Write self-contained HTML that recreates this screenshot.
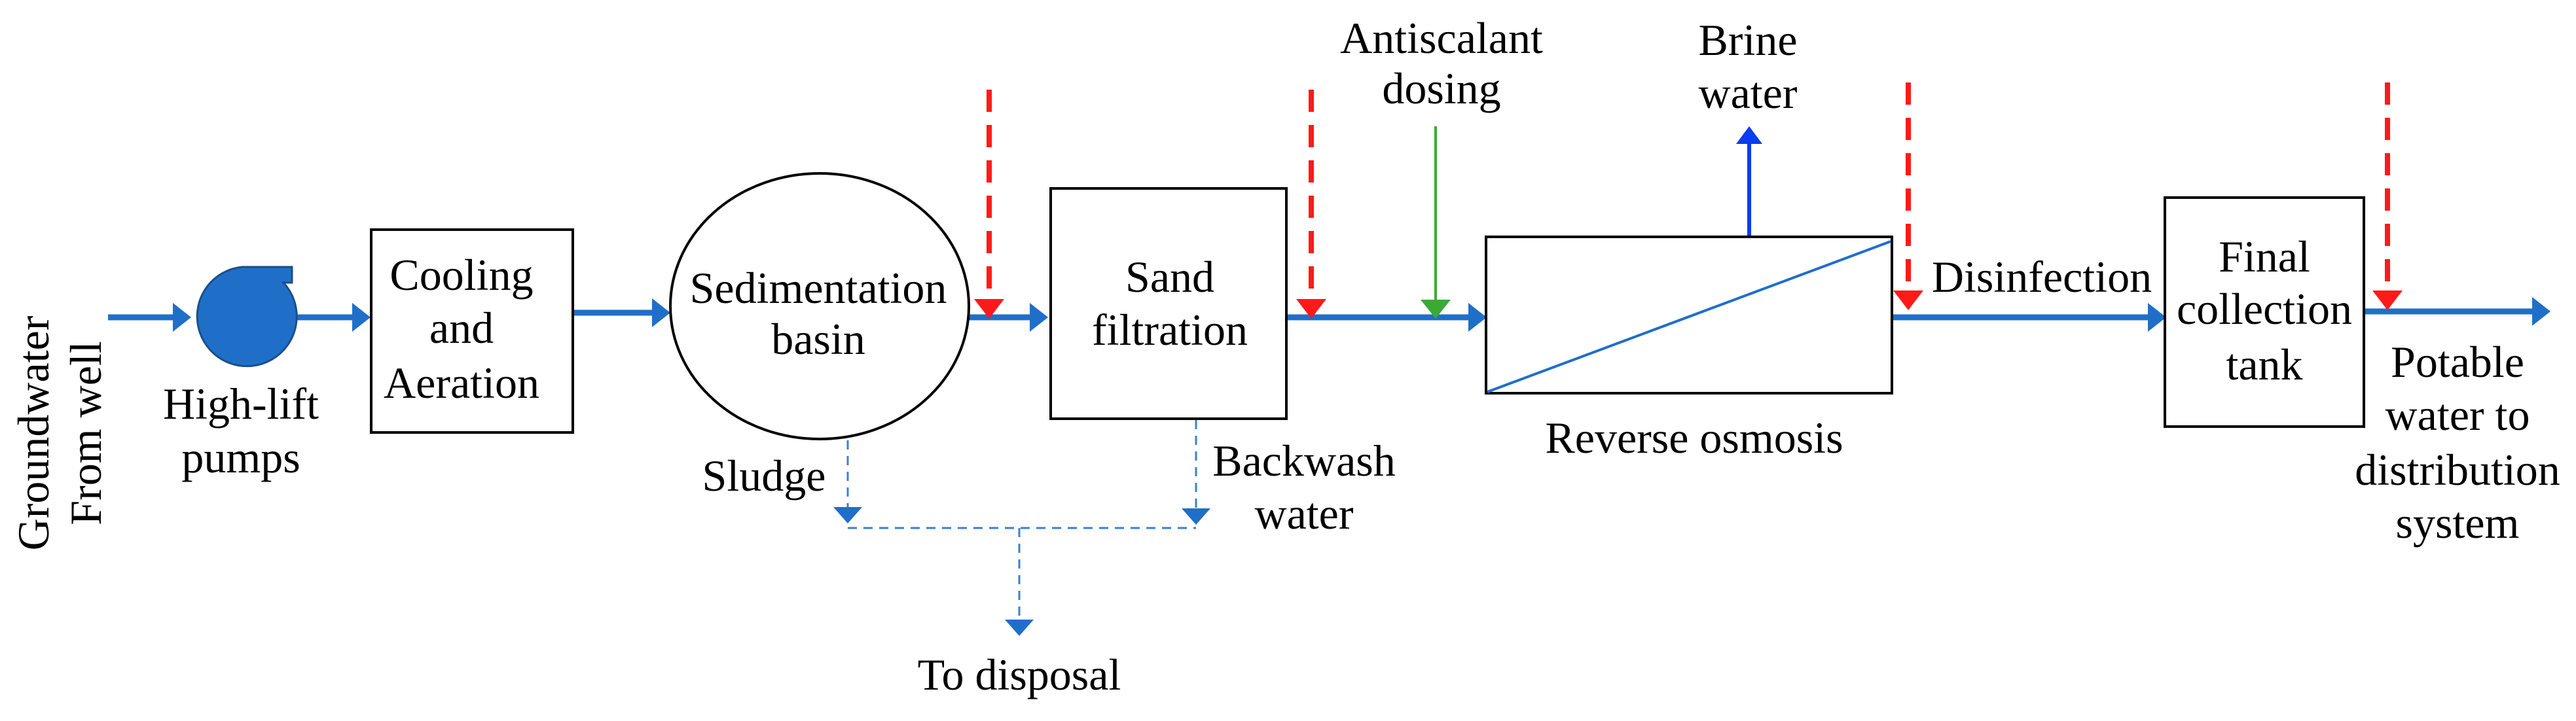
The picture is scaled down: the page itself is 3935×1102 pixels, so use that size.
<!DOCTYPE html>
<html><head><meta charset="utf-8"><style>
html,body{margin:0;padding:0;background:#fff;}
svg{display:block;}
svg text{font-family:"Liberation Serif","Times New Roman",Times,serif !important;font-size:68px;fill:#000;}
</style></head><body>
<svg width="3935" height="1102" viewBox="0 0 3935 1102" xmlns="http://www.w3.org/2000/svg">
<g font-family="Liberation Serif, Times New Roman, serif" font-size="68">
<!-- rotated input labels -->
<text transform="translate(74,662) rotate(-90)" text-anchor="middle">Groundwater</text>
<text transform="translate(154,662) rotate(-90)" text-anchor="middle">From well</text>

<!-- main blue flow lines -->
<g stroke="#1f6fc9" stroke-width="9" fill="none">
<line x1="165" y1="485" x2="266" y2="485"/>
<line x1="446" y1="485" x2="540" y2="485"/>
<line x1="875" y1="478" x2="998" y2="478"/>
<line x1="1480" y1="485" x2="1575" y2="485"/>
<line x1="1965" y1="485" x2="2245" y2="485"/>
<line x1="2890" y1="485" x2="3283" y2="485"/>
<line x1="3611" y1="476" x2="3870" y2="476"/>
</g>
<g fill="#1f6fc9">
<polygon points="292,485 264,463 264,507"/>
<polygon points="566,485 538,463 538,507"/>
<polygon points="1024,478 996,456 996,500"/>
<polygon points="1601,485 1573,463 1573,507"/>
<polygon points="2271,485 2243,463 2243,507"/>
<polygon points="3309,485 3281,463 3281,507"/>
<polygon points="3896,476 3868,454 3868,498"/>
</g>

<!-- pump -->
<g fill="#1f6fc9" stroke="#1a4f8a" stroke-width="3">
<path d="M370,408 L446,408 L446,432 L433,432 A76,76 0 1 1 370,408 Z"/>
</g>
<text x="368" y="640" text-anchor="middle">High-lift</text>
<text x="368" y="722" text-anchor="middle">pumps</text>

<!-- cooling box -->
<rect x="567" y="351" width="308" height="310" fill="#fff" stroke="#000" stroke-width="4"/>
<text x="705" y="443" text-anchor="middle">Cooling</text>
<text x="705" y="524" text-anchor="middle">and</text>
<text x="705" y="608" text-anchor="middle">Aeration</text>

<!-- sedimentation -->
<ellipse cx="1252" cy="468" rx="228" ry="203" fill="#fff" stroke="#000" stroke-width="4"/>
<text x="1250" y="463" text-anchor="middle">Sedimentation</text>
<text x="1250" y="541" text-anchor="middle">basin</text>
<text x="1167" y="750" text-anchor="middle">Sludge</text>

<!-- sand box -->
<rect x="1605" y="288" width="360" height="352" fill="#fff" stroke="#000" stroke-width="4"/>
<text x="1787" y="446" text-anchor="middle">Sand</text>
<text x="1787" y="527" text-anchor="middle">filtration</text>
<text x="1992" y="727" text-anchor="middle">Backwash</text>
<text x="1992" y="808" text-anchor="middle">water</text>

<!-- dashed disposal lines -->
<g stroke="#3a7fd5" stroke-width="3" fill="none" stroke-dasharray="14 10">
<line x1="1295" y1="673" x2="1295" y2="776"/>
<line x1="1827" y1="642" x2="1827" y2="778"/>
<line x1="1295" y1="807" x2="1827" y2="807"/>
<line x1="1557" y1="807" x2="1557" y2="948"/>
</g>
<g fill="#1f6fc9">
<polygon points="1295,800 1273,775 1317,775"/>
<polygon points="1827,802 1805,777 1849,777"/>
<polygon points="1557,972 1535,947 1579,947"/>
</g>
<text x="1557" y="1054" text-anchor="middle">To disposal</text>

<!-- red dashed arrows -->
<g stroke="#ff1a1a" stroke-width="8" fill="none" stroke-dasharray="34 20">
<line x1="1511" y1="137" x2="1511" y2="460"/>
<line x1="2003" y1="137" x2="2003" y2="460"/>
<line x1="2915" y1="126" x2="2915" y2="446"/>
<line x1="3647" y1="126" x2="3647" y2="446"/>
</g>
<g fill="#ff1a1a">
<polygon points="1511,487 1488,457 1534,457"/>
<polygon points="2003,487 1980,457 2026,457"/>
<polygon points="2915,474 2892,444 2938,444"/>
<polygon points="3647,474 3624,444 3670,444"/>
</g>

<!-- green antiscalant -->
<line x1="2193" y1="193" x2="2193" y2="460" stroke="#3aaa35" stroke-width="4"/>
<polygon points="2193,487 2170,458 2216,458" fill="#3aaa35"/>
<text x="2202" y="81" text-anchor="middle">Antiscalant</text>
<text x="2202" y="158" text-anchor="middle">dosing</text>

<!-- RO -->
<rect x="2270" y="362" width="620" height="239" fill="#fff" stroke="#000" stroke-width="4"/>
<line x1="2272" y1="599" x2="2888" y2="369" stroke="#1f6fc9" stroke-width="4"/>
<line x1="2672" y1="360" x2="2672" y2="215" stroke="#0a3cf0" stroke-width="6"/>
<polygon points="2672,193 2652,220 2692,220" fill="#0a3cf0"/>
<text x="2670" y="84" text-anchor="middle">Brine</text>
<text x="2670" y="165" text-anchor="middle">water</text>
<text x="2588" y="692" text-anchor="middle">Reverse osmosis</text>

<text x="3119" y="446" text-anchor="middle">Disinfection</text>

<!-- final tank -->
<rect x="3307" y="302" width="304" height="350" fill="#fff" stroke="#000" stroke-width="4"/>
<text x="3459" y="415" text-anchor="middle">Final</text>
<text x="3459" y="495" text-anchor="middle">collection</text>
<text x="3459" y="580" text-anchor="middle">tank</text>

<text x="3754" y="576" text-anchor="middle">Potable</text>
<text x="3754" y="657" text-anchor="middle">water to</text>
<text x="3754" y="741" text-anchor="middle">distribution</text>
<text x="3754" y="822" text-anchor="middle">system</text>
</g>
</svg>
</body></html>
